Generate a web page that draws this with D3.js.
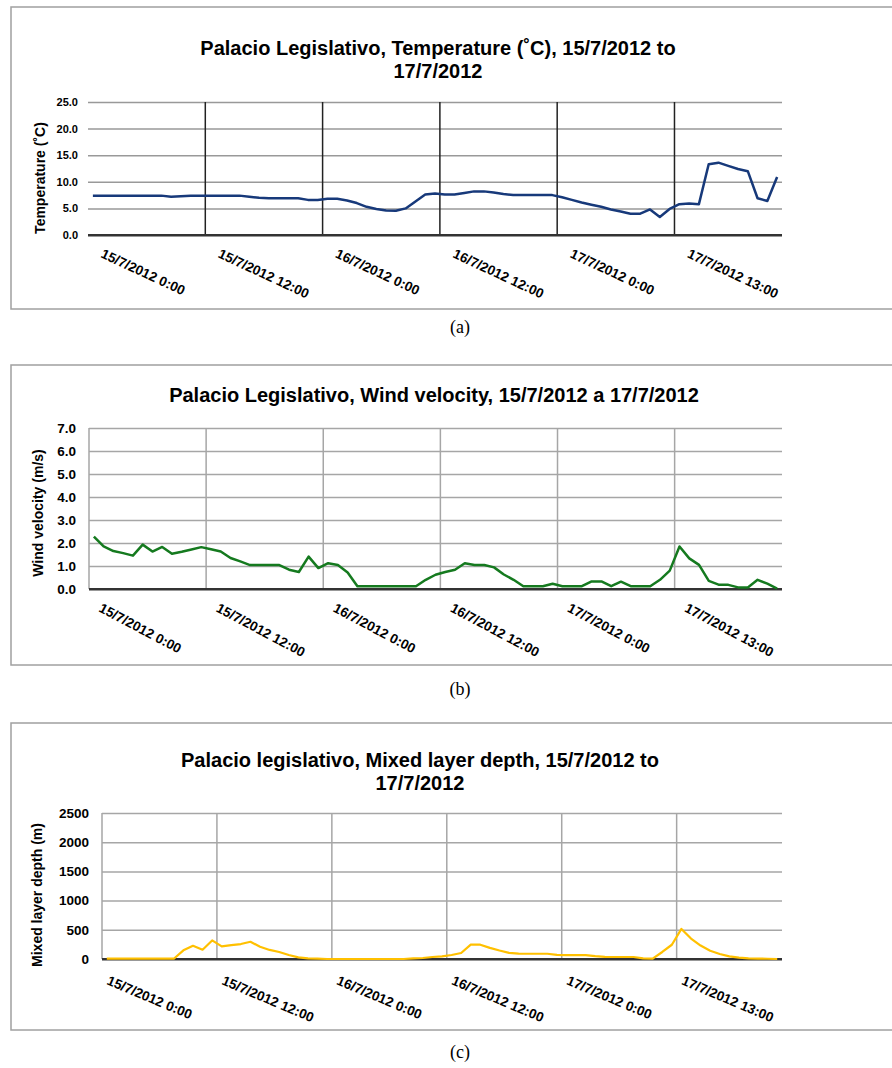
<!DOCTYPE html>
<html>
<head>
<meta charset="utf-8">
<script src="https://cdn.jsdelivr.net/npm/d3@7"></script>
<style>
  body { margin: 0; background: #fff; }
  svg text { font-family: "Liberation Sans", Arial, sans-serif; font-weight: bold; fill: #000; }
  svg text.caption { font-family: "Liberation Serif", "Times New Roman", serif; font-weight: normal; }
</style>
</head>
<body>
<svg id="chart" width="892" height="1068"></svg>
<script>
// Hourly categories, one label every 12 hours (last one is 13:00, an hour is missing)
var tickLabels = ['15/7/2012 0:00', '15/7/2012 12:00', '16/7/2012 0:00', '16/7/2012 12:00', '17/7/2012 0:00', '17/7/2012 13:00'];
var tickIndex = [0, 12, 24, 36, 48, 60];

var temperature = [7.4, 7.4, 7.4, 7.4, 7.4, 7.4, 7.4, 7.4, 7.2, 7.3,
    7.4, 7.4, 7.4, 7.4, 7.4, 7.4, 7.2, 7.0, 6.9, 6.9,
    6.9, 6.9, 6.6, 6.6, 6.8, 6.8, 6.5, 6.0, 5.3, 4.9,
    4.6, 4.55, 5.0, 6.3, 7.6, 7.8, 7.6, 7.6, 7.9, 8.2,
    8.2, 8.0, 7.7, 7.5, 7.5, 7.5, 7.5, 7.5, 7.1, 6.6,
    6.1, 5.7, 5.3, 4.8, 4.4, 4.0, 4.0, 4.8, 3.4, 4.9,
    5.8, 5.9, 5.8, 13.3, 13.6, 13.0, 12.4, 12.0, 6.9, 6.4,
    10.9];

var windVelocity = [2.28, 1.85, 1.65, 1.56, 1.45, 1.93, 1.63, 1.83, 1.53, 1.62,
    1.72, 1.82, 1.73, 1.63, 1.35, 1.2, 1.04, 1.04, 1.04, 1.04,
    0.84, 0.74, 1.41, 0.91, 1.12, 1.04, 0.72, 0.12, 0.12, 0.12,
    0.12, 0.12, 0.12, 0.12, 0.4, 0.62, 0.74, 0.84, 1.12, 1.04,
    1.04, 0.94, 0.63, 0.4, 0.12, 0.12, 0.12, 0.23, 0.12, 0.12,
    0.12, 0.33, 0.33, 0.12, 0.32, 0.12, 0.12, 0.12, 0.4, 0.8,
    1.85, 1.33, 1.05, 0.35, 0.19, 0.18, 0.07, 0.07, 0.4, 0.23,
    0.02];

var mixedLayer = [5, 5, 5, 5, 5, 5, 5, 5, 148, 227,
    159, 318, 216, 239, 256, 295, 210, 155, 120, 68,
    28, 11, 6, 0, 0, 0, 0, 0, 0, 0,
    0, 0, 10, 17, 34, 45, 68, 102, 245, 245,
    190, 145, 105, 92, 90, 90, 90, 70, 68, 68,
    66, 48, 36, 34, 34, 34, 10, 6, 120, 244,
    515, 350, 230, 140, 85, 45, 25, 12, 8, 4,
    0];

var tempTicks = [0, 5, 10, 15, 20, 25];
var windTicks = [0, 1, 2, 3, 4, 5, 6, 7];
var mixedTicks = [0, 500, 1000, 1500, 2000, 2500];

var panels = [
    {
        values: temperature, ticks: tempTicks, fmt: d3.format('.1f'),
        title: ['Palacio Legislativo, Temperature (˚C), 15/7/2012 to', '17/7/2012'],
        yLabel: 'Temperature (˚C)', color: '#17397a', lineWidth: 2.5,
        left: 88, right: 782, top: 102, bottom: 235,
        titleX: 438, titleY: 55, yLabelX: 45, yLabelY: 178,
        tickSize: 11, tickGap: 10, angle: 25, lx: 12, ly: 22,
        hGrid: '#999', vGrid: '#222', showLeft: false,
        frame: [7, 309], caption: '(a)', captionY: 333
    },
    {
        values: windVelocity, ticks: windTicks, fmt: d3.format('.1f'),
        title: ['Palacio Legislativo, Wind velocity, 15/7/2012 a 17/7/2012'],
        yLabel: 'Wind velocity (m/s)', color: '#157a1f', lineWidth: 2.5,
        left: 89, right: 782, top: 428, bottom: 589,
        titleX: 434, titleY: 402, yLabelX: 43, yLabelY: 513,
        tickSize: 13.5, tickGap: 13, angle: 28, lx: 9, ly: 22,
        hGrid: '#a6a6a6', vGrid: '#a6a6a6', showLeft: true,
        frame: [365, 665], caption: '(b)', captionY: 695
    },
    {
        values: mixedLayer, ticks: mixedTicks, fmt: d3.format('d'),
        title: ['Palacio legislativo, Mixed layer depth, 15/7/2012 to', '17/7/2012'],
        yLabel: 'Mixed layer depth (m)', color: '#ffc000', lineWidth: 2.2,
        left: 102, right: 782, top: 813, bottom: 959,
        titleX: 420, titleY: 767, yLabelX: 42, yLabelY: 895,
        tickSize: 13.5, tickGap: 13, angle: 23, lx: 4, ly: 25,
        hGrid: '#a6a6a6', vGrid: '#a6a6a6', showLeft: true,
        frame: [723, 1030], caption: '(c)', captionY: 1058
    }
];

var svg = d3.select('#chart');

panels.forEach(function (p) {
    var g = svg.append('g');

    // panel border (runs off the right edge)
    g.append('rect')
        .attr('x', 11).attr('y', p.frame[0])
        .attr('width', 900).attr('height', p.frame[1] - p.frame[0])
        .attr('fill', 'none').attr('stroke', '#a0a0a0').attr('stroke-width', 1.5);

    var x = d3.scaleBand()
        .domain(d3.range(p.values.length))
        .range([p.left, p.right]);
    var y = d3.scaleLinear()
        .domain([p.ticks[0], p.ticks[p.ticks.length - 1]])
        .range([p.bottom, p.top]);

    // horizontal gridlines + tick labels
    var yAxis = g.append('g')
        .attr('transform', 'translate(' + p.left + ',0)')
        .call(d3.axisLeft(y).tickValues(p.ticks).tickFormat(p.fmt)
            .tickSize(-(p.right - p.left)).tickPadding(p.tickGap));
    yAxis.select('.domain').remove();
    yAxis.selectAll('.tick line')
        .attr('stroke', function (d) { return d === 0 ? '#333' : p.hGrid; })
        .attr('stroke-width', function (d) { return d === 0 ? 2 : 1.5; });
    yAxis.selectAll('.tick text')
        .attr('font-size', p.tickSize)
        .style('font-family', '"Liberation Sans", Arial, sans-serif')
        .style('font-weight', 'bold');

    // vertical gridlines every 12 hours
    var vIdx = p.showLeft ? tickIndex : tickIndex.slice(1);
    g.selectAll('line.vgrid')
        .data(vIdx)
        .enter()
        .append('line')
        .attr('class', 'vgrid')
        .attr('x1', function (d) { return x(d); })
        .attr('x2', function (d) { return x(d); })
        .attr('y1', p.top).attr('y2', p.bottom)
        .attr('stroke', p.vGrid).attr('stroke-width', 1.5);

    // baseline on top of gridlines
    g.append('line')
        .attr('x1', p.left).attr('x2', p.right)
        .attr('y1', y(0)).attr('y2', y(0))
        .attr('stroke', '#333').attr('stroke-width', 2);

    // data line
    var line = d3.line()
        .x(function (d, i) { return x(i) + x.bandwidth() / 2; })
        .y(function (d) { return y(d); });
    g.append('path')
        .datum(p.values)
        .attr('d', line)
        .attr('fill', 'none')
        .attr('stroke', p.color)
        .attr('stroke-width', p.lineWidth)
        .attr('stroke-linejoin', 'round');

    // rotated category labels
    g.selectAll('text.xlab')
        .data(tickIndex)
        .enter()
        .append('text')
        .attr('class', 'xlab')
        .attr('font-size', 13.5)
        .attr('transform', function (d) {
            return 'translate(' + (x(d) + p.lx) + ',' + (p.bottom + p.ly) + ') rotate(' + p.angle + ')';
        })
        .text(function (d, i) { return tickLabels[i]; });

    // title
    g.selectAll('text.title')
        .data(p.title)
        .enter()
        .append('text')
        .attr('class', 'title')
        .attr('x', p.titleX)
        .attr('y', function (d, i) { return p.titleY + i * 23; })
        .attr('text-anchor', 'middle')
        .attr('font-size', 20)
        .text(function (d) { return d; });

    // y axis title
    g.append('text')
        .attr('transform', 'translate(' + p.yLabelX + ',' + p.yLabelY + ') rotate(-90)')
        .attr('text-anchor', 'middle')
        .attr('font-size', 14)
        .text(p.yLabel);

    // caption under the panel
    svg.append('text')
        .attr('class', 'caption')
        .attr('x', 460).attr('y', p.captionY)
        .attr('text-anchor', 'middle')
        .attr('font-size', 18)
        .text(p.caption);
});
</script>
</body>
</html>
